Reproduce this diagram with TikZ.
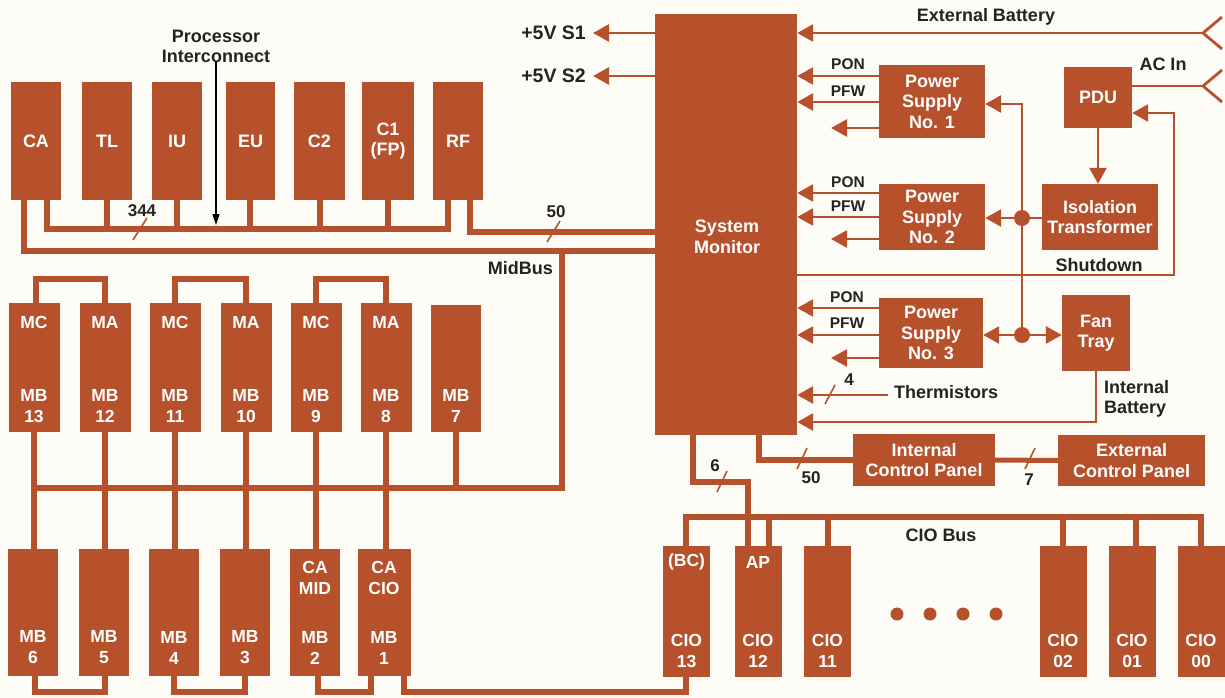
\documentclass[tikz,border=0pt]{standalone}
\usepackage{fontspec}
\setmainfont{Liberation Sans}
\usetikzlibrary{arrows.meta}
\definecolor{rust}{HTML}{B6512B}
\definecolor{ink}{HTML}{232323}
\definecolor{paper}{HTML}{FEFCF7}
\newcommand\myblk[6]{\node[blk, minimum width={#4-#2}, minimum height={#5-#3}] (#1) at ({(#2+#4)/2},{(#3+#5)/2}) {#6};}
\begin{document}
\begin{tikzpicture}[x=1pt,y=-1pt,
  blk/.style={fill=rust, draw=none, inner sep=0pt, text=white, align=center, font=\bfseries\fontsize{18}{20.5}\selectfont},
  btxt/.style={text=white, inner sep=0pt, align=center, font=\bfseries\fontsize{17.5}{21}\selectfont},
  lbl/.style={text=ink, inner sep=0pt, align=center, font=\bfseries\fontsize{18}{20}\selectfont},
  vlbl/.style={text=ink, inner sep=0pt, font=\bfseries\fontsize{19.5}{22}\selectfont},
  slbl/.style={text=ink, inner sep=0pt, font=\bfseries\fontsize{15.5}{17}\selectfont},
  nlbl/.style={text=ink, inner sep=0pt, font=\bfseries\fontsize{17}{19}\selectfont},
  bus/.style={draw=rust, line width=6pt},
  thin/.style={draw=rust, line width=2.8pt},
  arr/.style={thin, -{Triangle[length=16pt,width=17pt]}},
  slash/.style={draw=rust, line width=1.6pt},
  parr/.style={draw=black, line width=1.6pt, -{Triangle[length=11pt,width=7pt]}},
]
\fill[paper] (0,0) rectangle (1225,698);
\useasboundingbox (0,0) rectangle (1225,698);

% ---------- processor boxes ----------
\myblk{CA}{11}{82}{61}{200}{CA}
\myblk{TL}{82}{82}{132}{200}{TL}
\myblk{IU}{152}{82}{202}{200}{IU}
\myblk{EU}{226}{82}{275}{200}{EU}
\myblk{C2}{294}{82}{345}{200}{C2}
\myblk{C1}{362}{82}{414}{200}{C1\\(FP)}
\myblk{RF}{433}{82}{483}{200}{RF}

% ---------- system monitor ----------
\myblk{SM}{655}{14}{797}{435}{}
\node[btxt, font=\bfseries\fontsize{18}{21}\selectfont] (SMt) at (727,237) {System\\Monitor};

% ---------- power side ----------
\myblk{PS1}{879}{65}{985}{138}{Power\\Supply\\No. 1}
\myblk{PS2}{879}{184}{985}{250}{Power\\Supply\\No. 2}
\myblk{PS3}{879}{298}{983}{368}{Power\\Supply\\No. 3}
\myblk{PDU}{1064}{67}{1132}{128}{PDU}
\myblk{IT}{1042}{184}{1158}{250}{Isolation\\Transformer}
\myblk{FAN}{1062}{295}{1130}{371}{Fan\\Tray}
\myblk{ICP}{853}{434}{995}{486}{Internal\\Control Panel}
\myblk{ECP}{1058}{435}{1205}{486}{External\\Control Panel}

% ---------- memory row 1 ----------
\foreach \n/\x/\t in {13/34/MC,12/105/MA,11/175/MC,10/246/MA,9/316/MC,8/386/MA}{
  \node[blk, minimum width=51, minimum height=129] (M\n) at (\x,367.5) {};
  \node[btxt] (M\n-t) at (\x,322) {\t};
  \node[btxt] (M\n-b) at (\x,406) {MB\\\n};
}
\node[blk, minimum width=50, minimum height=127] (M7) at (456,368.5) {};
\node[btxt] (M7-b) at (456,406) {MB\\7};

% ---------- memory row 2 ----------
\foreach \n/\x in {6/33,5/104,4/174,3/245}{
  \node[blk, minimum width=50, minimum height=127] (M\n) at (\x,612.5) {};
  \node[btxt] (M\n-b) at (\x,647.5) {MB\\\n};
}
\node[blk, minimum width=50, minimum height=127] (M2) at (315,612.5) {};
\node[btxt] (M2-t) at (315,578) {CA\\MID};
\node[btxt] (M2-b) at (315,647.5) {MB\\2};
\node[blk, minimum width=53, minimum height=127] (M1) at (384,612.5) {};
\node[btxt] (M1-t) at (384,578) {CA\\CIO};
\node[btxt] (M1-b) at (384,647.5) {MB\\1};

% ---------- CIO row ----------
\foreach \n/\x in {13/686.5,12/758,11/827.5,02/1063,01/1132,00/1201}{
  \node[blk, minimum width=47, minimum height=131] (CIO\n) at (\x,611.5) {};
  \node[btxt] (CIO\n-b) at (\x,651) {CIO\\\n};
}
\node[btxt] (CIO13-t) at (686.5,562) {(BC)};
\node[btxt] (CIO12-t) at (758,562) {AP};
\foreach \i/\x in {1/897,2/930,3/963,4/996}{
  \fill[rust] (\x,614) circle (6.5);
}

% ---------- processor buses ----------
\draw[bus] (24,200) |- (SM.west |- 0,251);
\draw[bus] (47,200) |- (448,229) -- (448,200);
\foreach \x in {107,177,250,320,388}{ \draw[bus] (\x,200) -- (\x,229); }
\draw[bus] (470,200) |- (SM.west |- 0,232);
\node[lbl] (PI) at (216,46) {Processor\\Interconnect};
\draw[parr] (PI.south) -- (PI.south |- 0,225);
\draw[slash] (133,240) -- (147,218);
\node[nlbl] (n344) at (142,211) {344};
\draw[slash] (547,242) -- (560,221);
\node[nlbl] (n50a) at (556,212) {50};
\node[lbl, anchor=east] (MidBus) at (553,268) {MidBus};

% ---------- memory bus ----------
\draw[bus] (562,251) |- (34,488);
\foreach \x in {34,105,175,246,316,386}{ \draw[bus] (\x,432) -- (\x,549); }
\draw[bus] (456,432) -- (456,488);
\draw[bus] (36,303) |- (105,279) -- (105,303);
\draw[bus] (175,303) |- (246,279) -- (246,303);
\draw[bus] (316,303) |- (386,279) -- (386,303);
\draw[bus] (35,676) |- (105,692) -- (105,676);
\draw[bus] (174,676) |- (245,692) -- (245,676);
\draw[bus] (318,676) |- (371,692) -- (371,676);
\draw[bus] (404,676) |- (686,692) -- (686,677);

% ---------- CIO bus ----------
\draw[bus] (686,546) |- (1201,517) -- (1201,546);
\foreach \x in {769,828,1063,1136}{ \draw[bus] (\x,517) -- (\x,546); }
\draw[bus] (693,435) |- (748,482) -- (748,546);
\draw[slash] (717,492) -- (727,471);
\node[nlbl] (n6) at (715,466) {6};
\node[lbl] (CIOBus) at (941,535) {CIO Bus};

% ---------- control panels ----------
\draw[bus] (759,435) |- (ICP.west);
\draw[slash] (797,469) -- (807,448);
\node[nlbl] (n50b) at (811,478) {50};
\draw[draw=rust, line width=5pt] (ICP.east) -- (ECP.west);
\draw[slash] (1025,469) -- (1035,448);
\node[nlbl] (n7) at (1029,480) {7};

% ---------- +5V outputs ----------
\draw[arr] (SM.west |- 0,33) -- (593,33);
\draw[arr] (SM.west |- 0,76) -- (593,76);
\node[vlbl, anchor=east] (S1) at (586,33) {+5V S1};
\node[vlbl, anchor=east] (S2) at (586,76) {+5V S2};

% ---------- external battery / AC in ----------
\coordinate (EBf) at (1203,33);
\coordinate (ACf) at (1203,86);
\draw[arr] (EBf) -- (SM.east |- EBf);
\draw[thin, line join=miter] (1222,17) -- (EBf) -- (1222,49);
\node[lbl] (EB) at (986,17) {External Battery};
\draw[thin] (PDU.east |- ACf) -- (ACf);
\draw[thin, line join=miter] (1222,70) -- (ACf) -- (1222,102);
\node[lbl] (ACIn) at (1163,64) {AC In};

% ---------- PON / PFW ----------
\foreach \p/\a/\b/\c in {PS1/76/102/128,PS2/193/217/239,PS3/308/335/358}{
  \draw[arr] (\p.west |- 0,\a) -- (SM.east |- 0,\a);
  \draw[arr] (\p.west |- 0,\b) -- (SM.east |- 0,\b);
  \draw[arr] (\p.west |- 0,\c) -- (831,\c);
}
\node[slbl] (pon1) at (848,64) {PON};
\node[slbl] (pfw1) at (848,91) {PFW};
\node[slbl] (pon2) at (848,182) {PON};
\node[slbl] (pfw2) at (848,206) {PFW};
\node[slbl] (pon3) at (847,297) {PON};
\node[slbl] (pfw3) at (847,323) {PFW};

% ---------- power distribution ----------
\draw[arr] (1022,335) |- (PS1.east |- 0,104);
\draw[arr] (1022,218) -- (PS2.east |- 0,218);
\draw[thin] (1022,218) -- (IT.west |- 0,218);
\draw[arr] (1022,335) -- (PS3.east |- 0,335);
\draw[arr] (1022,335) -- (FAN.west |- 0,335);
\fill[rust] (1022,218) circle (8);
\fill[rust] (1022,335) circle (8);
\draw[arr] (PDU.south) -- (PDU.south |- IT.north);
\draw[arr] (SM.east |- 0,275) -| (1174,113) -- (PDU.east |- 0,113);
\node[lbl] (Shut) at (1099,265) {Shutdown};

% ---------- thermistors / internal battery ----------
\node[lbl, anchor=west] (TH) at (894,392) {Thermistors};
\draw[arr] (888,395) -- (SM.east |- 0,395);
\draw[slash] (825,404) -- (835,385);
\node[nlbl] (n4) at (849,380) {4};
\draw[arr] (FAN.south) |- (SM.east |- 0,422);
\node[lbl, anchor=west, align=left] (IB) at (1104,399) {Internal\\Battery};
\end{tikzpicture}
\end{document}
